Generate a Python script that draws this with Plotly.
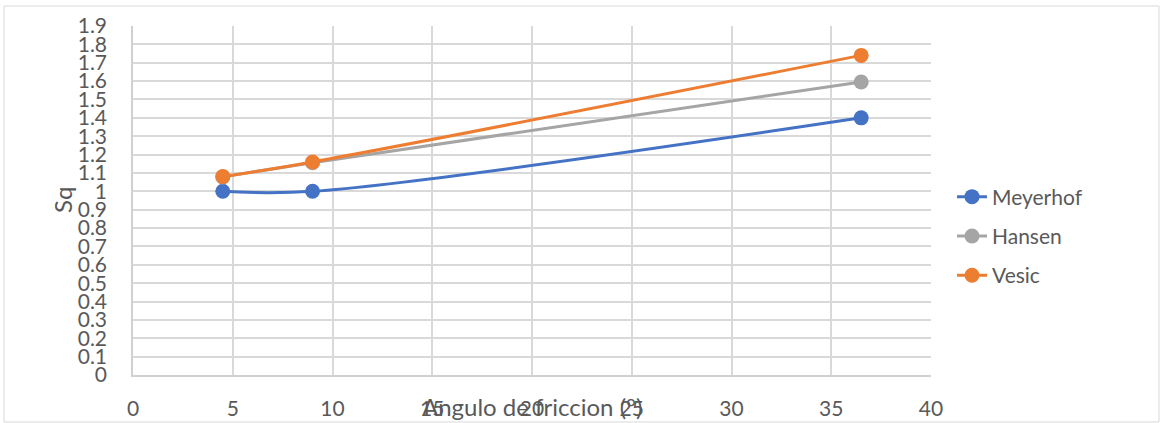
import plotly.graph_objects as go

# friction angle (degrees) and shape factor Sq for each method
angulo = [4.5, 9, 36.5]
meyerhof = [1.0, 1.0, 1.4]
hansen = [1.078, 1.156, 1.595]
vesic = [1.08, 1.16, 1.74]

series = [
    ("Meyerhof", meyerhof, "#4472C4"),
    ("Hansen", hansen, "#A5A5A5"),
    ("Vesic", vesic, "#ED7D31"),
]

W, H = 1160, 423
L, R, T, B = 133, 229, 26, 48
pw, ph = W - L - R, H - T - B
font = "Lato, 'Open Sans', sans-serif"
grey = "#595959"

fig = go.Figure()
for name, vals, col in series:
    fig.add_trace(go.Scatter(
        x=angulo, y=vals, name=name, mode="lines+markers", legendgroup=name,
        line=dict(color=col, width=3, shape="spline", smoothing=1.0),
        marker=dict(color=col, size=15),
    ))

fig.update_layout(
    width=W, height=H,
    margin=dict(l=L, r=R, t=T, b=B, autoexpand=False),
    paper_bgcolor="white", plot_bgcolor="white",
    font=dict(family=font, color=grey, size=21),
    showlegend=True,
    legend=dict(x=(952 - L) / pw, y=(375 - 236) / ph, xanchor="left", yanchor="middle",
                font=dict(size=21, color=grey), traceorder="grouped", tracegroupgap=9,
                bgcolor="rgba(0,0,0,0)"),
    xaxis=dict(range=[0, 40], dtick=5, tick0=0, showgrid=True, gridcolor="#D9D9D9", gridwidth=1.5,
               zeroline=False, showline=True, linecolor="#D0D0D0", linewidth=1.5, automargin=False,
               ticks="", ticklabelstandoff=14, tickfont=dict(size=21, color=grey)),
    yaxis=dict(range=[0, 1.9], dtick=0.1, tick0=0, showgrid=True, gridcolor="#D9D9D9", gridwidth=1.5,
               zeroline=False, showline=True, linecolor="#D0D0D0", linewidth=1.5, automargin=False,
               ticks="", ticklabelstandoff=20, tickfont=dict(size=21, color=grey),
               tickformat="~g"),
)

# axis titles (Excel puts the x title on top of the tick labels)
fig.add_annotation(text="Angulo de friccion (°)", xref="paper", yref="paper", x=0.5, y=0,
                   xanchor="center", yanchor="middle", yshift=-31, showarrow=False,
                   font=dict(size=24, color=grey))
fig.add_annotation(text="Sq", xref="paper", yref="paper", x=(62 - L) / pw, y=(375 - 200) / ph,
                   xanchor="center", yanchor="middle", textangle=-90, showarrow=False,
                   font=dict(size=24, color=grey))

# chart frame
fig.add_shape(type="rect", xref="paper", yref="paper",
              x0=(4 - L) / pw, x1=(1159 - L) / pw, y0=(375 - 422) / ph, y1=(375 - 6) / ph,
              line=dict(color="#D9D9D9", width=1), layer="below")

fig.write_html("out.html", config={"displayModeBar": False},
               post_script="document.body.style.margin='0px';")
